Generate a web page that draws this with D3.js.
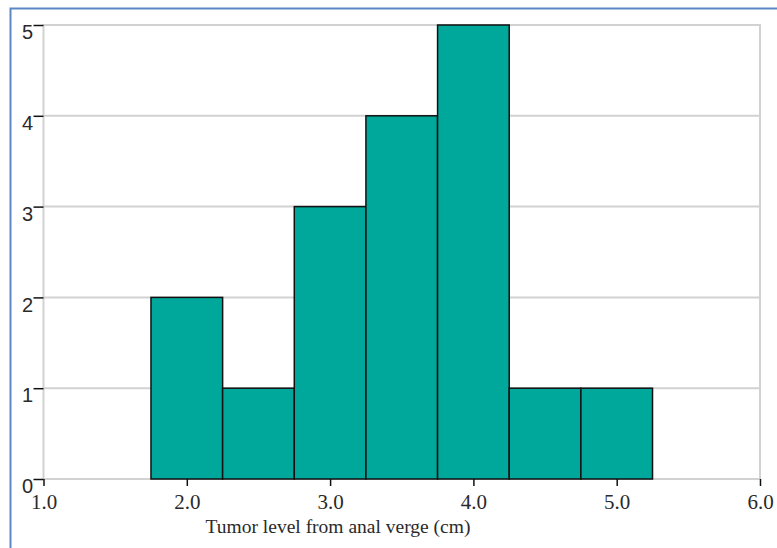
<!DOCTYPE html>
<html><head><meta charset="utf-8">
<script src="https://cdn.jsdelivr.net/npm/d3@7"></script>
<style>body{margin:0;background:#fff}</style>
</head><body>
<svg id="c" width="777" height="548"></svg>
<script>
const binStarts = [1.75, 2.25, 2.75, 3.25, 3.75, 4.25, 4.75];
const binWidth = 0.5;
const counts = [2, 1, 3, 4, 5, 1, 1];
const xTicks = [1.0, 2.0, 3.0, 4.0, 5.0, 6.0];
const yTicks = [0, 1, 2, 3, 4, 5];
const xTitle = "Tumor level from anal verge (cm)";

const svg = d3.select("#c");
const L = 43.5, R = 760, T = 25, B = 479;
const x = d3.scaleLinear().domain([1, 6]).range([L, R]);
const y = d3.scaleLinear().domain([0, 5]).range([B, T]);

// outer frame
svg.append("path").attr("d", `M10.5,548 V8.5 H777`).attr("fill","none").attr("stroke","#5b87c5").attr("stroke-width",2);

// gridlines
svg.append("g").selectAll("line").data(yTicks.filter(d=>d>0)).join("line")
  .attr("x1", L).attr("x2", R).attr("y1", d=>y(d)).attr("y2", d=>y(d))
  .attr("stroke", "#d2d2d2").attr("stroke-width", 2);
// plot frame
svg.append("rect").attr("x", L).attr("y", T).attr("width", R-L).attr("height", B-T)
  .attr("fill","none").attr("stroke","#d2d2d2").attr("stroke-width",2);

// bars
svg.append("g").selectAll("rect").data(binStarts).join("rect")
  .attr("x", (d)=>x(d)).attr("width", d=>x(d+binWidth)-x(d))
  .attr("y", (d,i)=>y(counts[i])).attr("height", (d,i)=>y(0)-y(counts[i]))
  .attr("fill", "#00a89b").attr("stroke", "#111").attr("stroke-width", 1.5);

// x axis
const xa = svg.append("g").attr("transform", `translate(0,${B})`)
  .call(d3.axisBottom(x).tickValues(xTicks).tickFormat(d3.format(".1f")).tickSize(7).tickSizeOuter(0));
xa.select(".domain").remove();
xa.selectAll("line").attr("stroke","#111").attr("stroke-width",1.5);
xa.selectAll("text").attr("font-family","'Liberation Serif', 'DejaVu Serif', serif").attr("font-size",21).attr("fill","#2a2a2a")
  .attr("y", 30).attr("dy", 0);

// y axis
const ya = svg.append("g").attr("transform", `translate(${L},0)`)
  .call(d3.axisLeft(y).tickValues(yTicks).tickFormat(d3.format("d")).tickSize(10).tickSizeOuter(0));
ya.select(".domain").remove();
ya.selectAll("line").attr("stroke","#111").attr("stroke-width",1.5);
ya.selectAll("text").attr("font-family","'Liberation Sans', Arial, sans-serif").attr("font-size",20).attr("fill","#2a2a2a")
  .attr("x", -10.5).attr("dy", "0.68em");

// title
svg.append("text").attr("x", 338).attr("y", 533).attr("text-anchor","middle")
  .attr("font-family","'Liberation Serif', 'DejaVu Serif', serif").attr("font-size",19.5).attr("fill","#2a2a2a")
  .text(xTitle);
</script>
</body></html>
